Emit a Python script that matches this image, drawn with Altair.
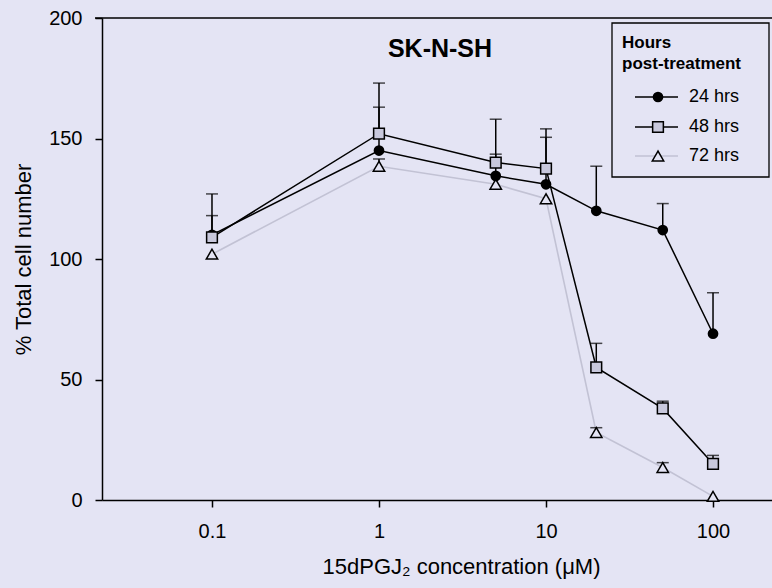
import altair as alt
import pandas as pd

# Drug concentration (µM) and mean % cell number per time point, with upper SEM
conc = [0.1, 1, 5, 10, 20, 50, 100]
series_names = ["24 hrs", "48 hrs", "72 hrs"]
h24 = [110, 145, 134.5, 131, 120, 112, 69]
h24_err = [8, 18, 23.5, 19.5, 18.5, 11, 17]
h48 = [109, 152, 140, 137.5, 55, 38, 15]
h48_err = [18, 21, 3.5, 16.5, 10, 3, 3.5]
h72 = [102, 138.5, 131, 125, 28, 13.5, 1.5]
h72_err = [0, 3, 0, 0, 2, 2, 0]

BG = "#e4e4f4"
SQUARE_FILL = "#c8c8dc"
FAINT = "#c2c2d4"
FONT = "Liberation Sans"

rows = []
for name, vals, errs in zip(series_names, [h24, h48, h72], [h24_err, h48_err, h72_err]):
    for c, v, e in zip(conc, vals, errs):
        rows.append({"series": name, "conc": c, "value": v, "err": e, "top": v + e})
df = pd.DataFrame(rows)

x_scale = alt.Scale(type="log", domain=[0.02195, 225.5], nice=False)
y_scale = alt.Scale(domain=[0, 200], nice=False)

x_enc = alt.X(
    "conc:Q",
    scale=x_scale,
    axis=alt.Axis(
        values=[0.1, 1, 10, 100],
        format="~g",
        title="15dPGJ₂ concentration (μM)",
        titleX=359,
    ),
)
y_enc = alt.Y(
    "value:Q",
    scale=y_scale,
    axis=alt.Axis(values=[0, 50, 100, 150, 200], title="% Total cell number"),
)
x_plain = alt.X("conc:Q", scale=x_scale)
y_plain = alt.Y("value:Q", scale=y_scale)

base = alt.Chart(df)

line72 = base.transform_filter(alt.datum.series == "72 hrs").mark_line(
    color=FAINT, strokeWidth=1.6
).encode(x=x_enc, y=y_enc)
line24 = base.transform_filter(alt.datum.series == "24 hrs").mark_line(
    color="black", strokeWidth=1.5
).encode(x=x_plain, y=y_plain)
line48 = base.transform_filter(alt.datum.series == "48 hrs").mark_line(
    color="black", strokeWidth=1.5
).encode(x=x_plain, y=y_plain)

err_base = base.transform_filter(alt.datum.err > 0)
stems = err_base.mark_rule(color="black", strokeWidth=1.5).encode(
    x=x_plain, y=y_plain, y2="top:Q"
)
caps = err_base.mark_tick(
    color="black", orient="horizontal", size=12, thickness=1.5
).encode(x=x_plain, y=alt.Y("top:Q", scale=y_scale))

tri = base.transform_filter(alt.datum.series == "72 hrs").mark_point(
    shape="triangle-up", size=130, fill=BG, fillOpacity=1, stroke="black", strokeWidth=1.5
).encode(x=x_plain, y=y_plain)
circ = base.transform_filter(alt.datum.series == "24 hrs").mark_point(
    shape="circle", size=115, filled=True, color="black", opacity=1
).encode(x=x_plain, y=y_plain)
sq = base.transform_filter(alt.datum.series == "48 hrs").mark_point(
    shape="square", size=115, fill=SQUARE_FILL, fillOpacity=1, stroke="black", strokeWidth=1.5
).encode(x=x_plain, y=y_plain)

# Frame line along the top of the plot
top_rule = alt.Chart(pd.DataFrame({"value": [200]})).mark_rule(
    color="black", strokeWidth=1.5
).encode(y=y_plain, x=alt.value(-7), x2=alt.value(670))

title = alt.Chart(pd.DataFrame({"t": ["SK-N-SH"]})).mark_text(
    font=FONT, fontSize=25, fontWeight="bold", color="black", baseline="middle", align="center"
).encode(text="t:N", x=alt.value(338), y=alt.value(31))

# Legend box and heading
leg_layers = [
    alt.Chart(pd.DataFrame({"a": [0]})).mark_rect(
        fill=BG, stroke="black", strokeWidth=1.3
    ).encode(x=alt.value(510), x2=alt.value(667), y=alt.value(5), y2=alt.value(159)),
]
for txt, ty in zip(["Hours", "post-treatment"], [30, 51]):
    leg_layers.append(
        alt.Chart(pd.DataFrame({"t": [txt]})).mark_text(
            font=FONT, fontSize=17, fontWeight="bold", color="black",
            align="left", baseline="alphabetic"
        ).encode(text="t:N", x=alt.value(520), y=alt.value(ty))
    )

leg_rows = [79, 109, 138]
leg_style = {
    "24 hrs": dict(shape="circle", size=115, filled=True, color="black", opacity=1),
    "48 hrs": dict(shape="square", size=115, fill=SQUARE_FILL, fillOpacity=1, stroke="black", strokeWidth=1.5),
    "72 hrs": dict(shape="triangle-up", size=130, fill=BG, fillOpacity=1, stroke="black", strokeWidth=1.5),
}
leg_line = {"24 hrs": "black", "48 hrs": "black", "72 hrs": FAINT}
for name, ry in zip(series_names, leg_rows):
    d = pd.DataFrame({"series": [name]})
    leg_layers.append(
        alt.Chart(d).mark_rule(color=leg_line[name], strokeWidth=1.5).encode(
            x=alt.value(533), x2=alt.value(576), y=alt.value(ry)
        )
    )
    leg_layers.append(
        alt.Chart(d).mark_point(**leg_style[name]).encode(x=alt.value(556), y=alt.value(ry))
    )
    leg_layers.append(
        alt.Chart(d).mark_text(
            font=FONT, fontSize=18, color="black", align="left", baseline="middle"
        ).encode(text="series:N", x=alt.value(587), y=alt.value(ry))
    )

chart = (
    alt.layer(
        line72, line24, line48, stems, caps, tri, circ, sq, top_rule, title, *leg_layers
    )
    .properties(
        width=670,
        height=482,
        padding={"left": 102, "top": 18, "right": 0, "bottom": 88},
        autosize=alt.AutoSizeParams(type="none"),
    )
    .configure(background=BG)
    .configure_view(stroke=None)
    .configure_axis(
        grid=False,
        domainColor="black",
        domainWidth=1.5,
        tickColor="black",
        tickWidth=1.5,
        tickSize=7,
        labelFont=FONT,
        labelFontSize=20,
        labelColor="black",
        titleFont=FONT,
        titleFontSize=22,
        titleFontWeight="normal",
        titleColor="black",
    )
    .configure_axisX(labelPadding=14, titlePadding=15)
    .configure_axisY(labelPadding=13, titlePadding=13)
)

chart.save("out.html", embed_options={"renderer": "svg", "actions": False})
